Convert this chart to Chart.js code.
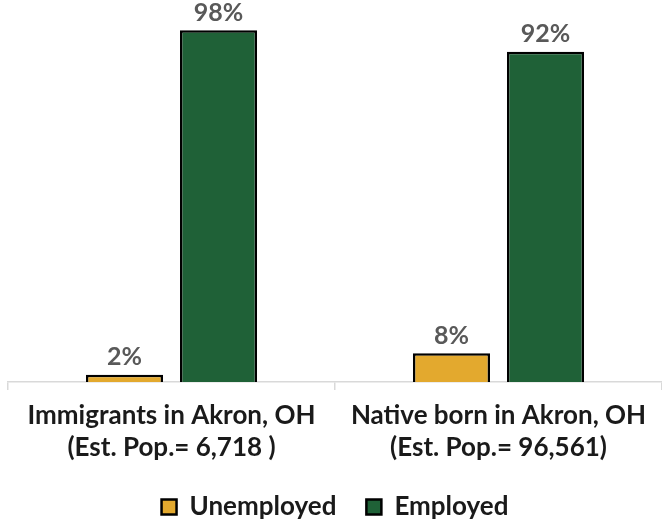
<!DOCTYPE html>
<html>
<head>
<meta charset="utf-8">
<script src="https://cdn.jsdelivr.net/npm/chart.js@4/dist/chart.umd.min.js"></script>
<style>
  html, body { margin: 0; padding: 0; background: #fff; }
  #wrap { width: 662px; height: 524px; }
</style>
</head>
<body>
<div id="wrap"><canvas id="empChart"></canvas></div>
<script>
// DATA
const categories = [
  ["Immigrants in Akron, OH", "(Est. Pop.= 6,718 )"],
  ["Native born in Akron, OH", "(Est. Pop.= 96,561)"]
];
const unemployed = [2, 8];
const employed = [98, 92];

const FONT = "Lato, 'Open Sans', sans-serif";

// draws the % value above every bar
const valueLabels = {
  id: "valueLabels",
  afterDatasetsDraw(chart) {
    const ctx = chart.ctx;
    ctx.save();
    ctx.font = "bold 25px " + FONT;
    ctx.fillStyle = "#595959";
    ctx.textAlign = "center";
    ctx.textBaseline = "bottom";
    chart.data.datasets.forEach(function (ds, i) {
      chart.getDatasetMeta(i).data.forEach(function (bar, j) {
        ctx.fillText(ds.data[j] + "%", bar.x, bar.y - 5);
      });
    });
    ctx.restore();
  }
};

const ctx = document.getElementById("empChart").getContext("2d");

const empChart = new Chart(ctx, {
  type: "bar",
  data: {
    labels: categories,
    datasets: [{
      label: "Unemployed",
      data: unemployed,
      backgroundColor: "#E3A92E",
      borderColor: "#000",
      borderWidth: 2.5,
      categoryPercentage: 0.575,
      barPercentage: 0.82
    }, {
      label: "Employed",
      data: employed,
      backgroundColor: "#1F6137",
      borderColor: "#000",
      borderWidth: 2.5,
      categoryPercentage: 0.575,
      barPercentage: 0.82
    }]
  },
  options: {
    responsive: true,
    maintainAspectRatio: false,
    animation: false,
    layout: { padding: { left: 8, right: 0, top: 23, bottom: -6 } },
    scales: {
      x: {
        offset: true,
        afterFit: function (scale) { scale.height -= 9; },
        grid: { display: true, drawOnChartArea: false, tickLength: 8, color: "#d9d9d9", lineWidth: 1.5 },
        border: { display: true, color: "#d9d9d9", width: 1.5 },
        ticks: { color: "#1a1a1a", font: { family: FONT, size: 26, weight: "bold", lineHeight: 1.25 }, padding: 9 }
      },
      y: {
        display: false,
        min: 0,
        max: 100
      }
    },
    plugins: {
      legend: {
        position: "bottom",
        labels: {
          color: "#1a1a1a",
          font: { family: FONT, size: 26, weight: "bold" },
          boxWidth: 15,
          boxHeight: 15,
          padding: 30
        }
      },
      tooltip: { enabled: false }
    }
  },
  plugins: [valueLabels]
});
</script>
</body>
</html>
